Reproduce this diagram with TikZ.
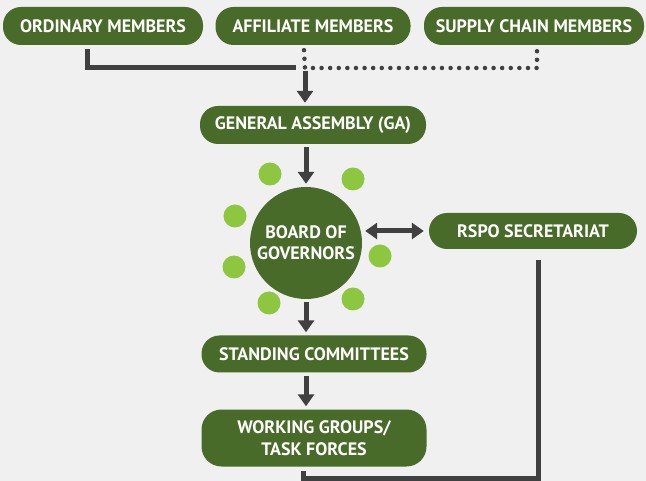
\documentclass[tikz,border=0pt]{standalone}
\usepackage{fontspec}
\setmainfont{PT Sans}
\usetikzlibrary{arrows.meta}
\definecolor{leaf}{HTML}{486B2A}
\definecolor{lime}{HTML}{8DC63F}
\definecolor{ink}{HTML}{404041}
\definecolor{paper}{HTML}{F0F0F0}

\begin{document}
\begin{tikzpicture} [x=1pt, y=-1pt,
  pill/.style={fill=leaf, text=white, font=\bfseries\fontsize{18}{22}\selectfont, rounded corners=18pt, minimum height=38pt, align=center, inner sep=0pt},
  seat/.style={circle, fill=lime, minimum size=23pt, inner sep=0pt},
  link/.style={draw=ink, line width=5pt},
  arr/.style={link, -{Triangle[width=16pt,length=12pt]}, shorten <=3pt, shorten >=3pt},
  darr/.style={link, {Triangle[width=16pt,length=12pt]}-{Triangle[width=16pt,length=12pt]}, shorten <=3pt, shorten >=5pt},
  dots/.style={draw=ink, line width=4.5pt, line cap=round, dash pattern=on 0pt off 8.6pt}]
\fill[paper] (0,0) rectangle (646,481);
\useasboundingbox (0,0) rectangle (646,481);
% members
\node[pill, minimum width=200pt](om) at (103,26){ORDINARY MEMBERS};
\node[pill, minimum width=195pt](am) at (313,26){AFFILIATE MEMBERS};
\node[pill, minimum width=220pt](scm) at (534,26){SUPPLY CHAIN MEMBERS};
\coordinate (hub) at (305,68);
% main column
\node[pill, minimum width=226pt](ga) at (313,125){GENERAL ASSEMBLY (GA)};
\node[circle, fill=leaf, minimum size=112pt, inner sep=0pt, text=white, align=center, font=\bfseries\fontsize{18}{21}\selectfont](bog) at (306,243){BOARD OF\\GOVERNORS};
\node[pill, minimum width=208pt, minimum height=36pt](sec) at (533,231){RSPO SECRETARIAT};
\node[pill, minimum width=225pt, minimum height=37pt](sc) at (314,354){STANDING COMMITTEES};
\node[pill, minimum width=225pt, minimum height=57pt, rounded corners=20pt](wg) at (314,438){WORKING GROUPS/\\TASK FORCES};
\coordinate (base) at (538,478);
% seats round the board
\node[seat](s1) at (270,174){};
\node[seat](s2) at (353,179){};
\node[seat](s3) at (235,216){};
\node[seat](s4) at (380,256){};
\node[seat](s5) at (234,267){};
\node[seat](s6) at (269,303){};
\node[seat](s7) at (353,299){};
% connectors
\draw[link] ([xshift=-16pt,yshift=-4pt]om.south) |- ([xshift=-9pt]hub);
\draw[dots] ([xshift=-9pt,yshift=-5pt]am.south) -- (hub) -| ([xshift=3pt,yshift=-4pt]scm.south);
\draw[arr] (hub) -- (hub |- ga.north);
\draw[arr] (ga.south -| bog) -- (bog.north);
\draw[darr] (bog.east |- sec.west) -- (sec.west);
\draw[arr] (bog.south) -- (bog |- sc.north);
\draw[arr] (sc.south -| bog) -- (bog |- wg.north);
\draw[link] (base |- sec.south) ++(0,11) -- (base) -| ([xshift=-11pt,yshift=-4pt]wg.south);
\end{tikzpicture}
\end{document}
